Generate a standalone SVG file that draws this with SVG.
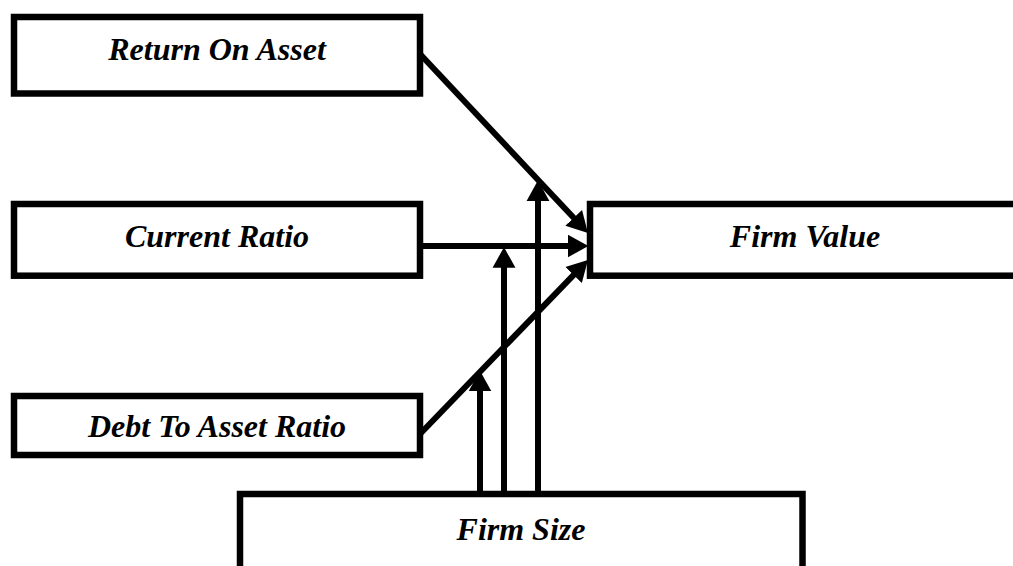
<svg xmlns="http://www.w3.org/2000/svg" width="1013" height="566" viewBox="0 0 1013 566">
<style>
.box{fill:#fff;stroke:#000;stroke-width:6.5}
.lbl{font-family:"Liberation Serif","Times New Roman",serif;font-weight:bold;font-style:italic;font-size:32px;fill:#000;text-anchor:middle}
.con{stroke:#000;stroke-width:6;fill:none;marker-end:url(#ah)}
</style>
<defs>
<marker id="ah" markerUnits="userSpaceOnUse" markerWidth="22" markerHeight="24" viewBox="0 -11 20 22" refX="4" refY="0" orient="auto">
<path d="M0,-10.5 L19,0 L0,10.5 Z" fill="#000"/>
</marker>
</defs>
<rect width="1013" height="566" fill="#fff"/>
<g id="roa"><rect class="box" x="14" y="17" width="406" height="76.5"/><text class="lbl" x="217" y="60">Return On Asset</text></g>
<g id="cr"><rect class="box" x="14" y="204" width="406" height="71.7"/><text class="lbl" x="217" y="247">Current Ratio</text></g>
<g id="dtar"><rect class="box" x="14" y="396" width="406" height="59"/><text class="lbl" x="217" y="437">Debt To Asset Ratio</text></g>
<g id="fv"><rect class="box" x="590" y="204" width="450" height="71.7"/><text class="lbl" x="805" y="247">Firm Value</text></g>
<g id="fs"><rect class="box" x="240" y="494" width="562.5" height="120"/><text class="lbl" x="521" y="540">Firm Size</text></g>
<g id="connectors">
<line class="con" x1="420" y1="54" x2="576.7" y2="221"/>
<line class="con" x1="420" y1="246" x2="572" y2="246"/>
<line class="con" x1="420" y1="434" x2="576.6" y2="271.8"/>
<line class="con" x1="480" y1="494" x2="480" y2="387"/>
<line class="con" x1="504" y1="494" x2="504" y2="263.5"/>
<line class="con" x1="538" y1="494" x2="538" y2="196.7"/>
</g>
</svg>
